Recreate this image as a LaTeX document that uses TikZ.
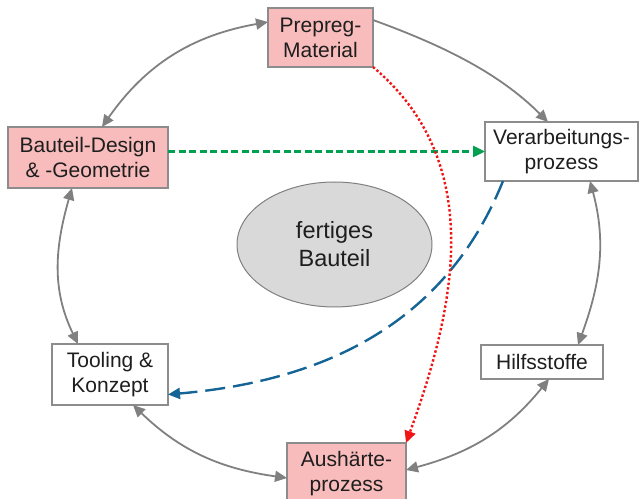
\documentclass[tikz,border=0pt]{standalone}
\usepackage{fontspec}
\setmainfont{Liberation Sans}
\usetikzlibrary{arrows.meta,shapes.geometric}
\definecolor{pinkfill}{RGB}{248,188,188}
\definecolor{boxline}{RGB}{140,140,140}
\definecolor{arrowgray}{RGB}{128,128,128}
\definecolor{dgreen}{RGB}{0,160,80}
\definecolor{dblue}{RGB}{20,100,150}
\definecolor{dred}{RGB}{240,20,20}
\definecolor{ellfill}{RGB}{217,217,217}
\definecolor{txt}{RGB}{30,30,30}
\begin{document}
\begin{tikzpicture}[x=1pt,y=1pt,
  >={Triangle[length=12pt,width=11pt]},
  box/.style={draw=boxline, line width=1.2pt, inner sep=0pt, outer sep=0pt,
    align=center, font=\fontsize{21}{25}\selectfont, text=txt},
  pinkbox/.style={box, fill=pinkfill},
  whitebox/.style={box, fill=white},
  cyc/.style={draw=arrowgray, line width=1.8pt},
  greenline/.style={draw=dgreen, line width=2.4pt, dash pattern=on 7pt off 3.5pt},
  blueline/.style={draw=dblue, line width=2.4pt, dash pattern=on 20pt off 8pt},
  redline/.style={draw=dred, line width=2.4pt, dash pattern=on 2.4pt off 2.2pt}
]
\useasboundingbox (0,0) rectangle (644,498);
\clip (0,0) rectangle (644,498);

\node[pinkbox, minimum width=105, minimum height=59] (prepreg) at (320.5,460.5) {Prepreg-\\Material};
\node[pinkbox, minimum width=160, minimum height=61] (design) at (88,340.5) {Bauteil-Design\\\& -Geometrie};
\node[whitebox, minimum width=153, minimum height=59] (verarb) at (561.5,346.5) {Verarbeitungs-\\prozess};
\node[whitebox, minimum width=116, minimum height=61] (tooling) at (110,123.5) {Tooling \&\\Konzept};
\node[whitebox, minimum width=122, minimum height=34] (hilfs) at (542,136) {Hilfsstoffe};
\node[pinkbox, minimum width=119, minimum height=62] (aush) at (346.5,24) {Aushärte-\\prozess};
\node[ellipse, draw=arrowgray, fill=ellfill, line width=1pt, minimum width=195,
  minimum height=125, inner sep=0pt, align=center, text=txt,
  font=\fontsize{23.5}{28}\selectfont] (teil) at (334.5,253.5) {fertiges\\Bauteil};

% outer cycle
\draw[cyc,<->] ([yshift=15.5]prepreg.west) to[out=190,in=55] ([xshift=14]design.north);
\draw[cyc,->] ([yshift=17.5]prepreg.east) to[out=-20,in=135,looseness=0.9] ([xshift=-13.5]verarb.north);
\draw[cyc,<->] ([xshift=28.5]verarb.south) to[out=-75,in=70] ([xshift=36]hilfs.north);
\draw[cyc,<->] ([xshift=7]hilfs.south) to[out=231,in=15] ([yshift=4]aush.east);
\draw[cyc,<->] ([yshift=-4]aush.west) to[out=172,in=-44] ([xshift=23]tooling.south);
\draw[cyc,<->] ([xshift=-32]tooling.north) to[out=116,in=-106] ([xshift=-16]design.south);

% inner connectors
\draw[greenline,->] ([yshift=6]design.east) -- (verarb.west);
\draw[blueline,->] ([xshift=-58.5]verarb.south) to[out=248,in=5] ([yshift=-20]tooling.east);
\draw[redline,->] (prepreg.south east) to[out=-40,in=70] (aush.north east);
\end{tikzpicture}
\end{document}
